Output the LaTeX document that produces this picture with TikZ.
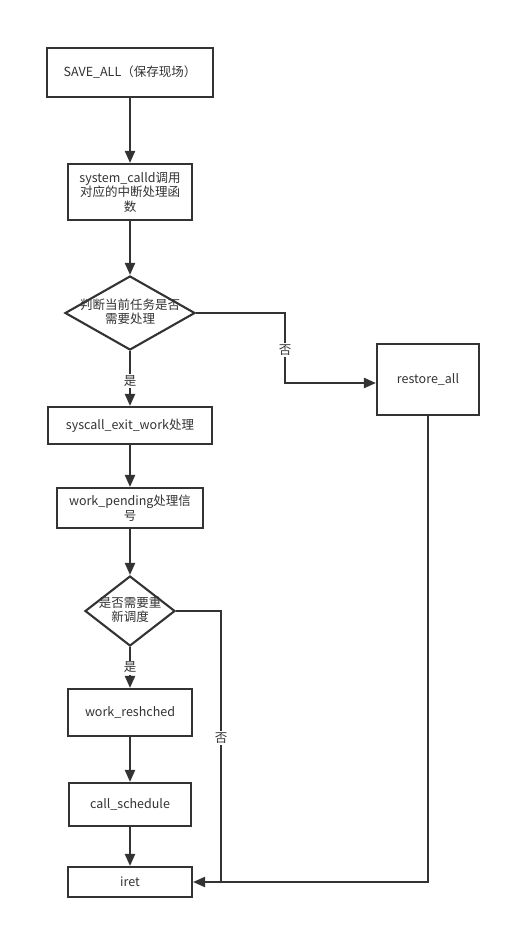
\documentclass[tikz,border=0pt]{standalone}
\usepackage{fontspec}
\setmainfont{Noto Sans CJK SC}
\usetikzlibrary{arrows.meta,shapes.geometric}
\definecolor{ink}{HTML}{333333}
\begin{document}
\begin{tikzpicture}[x=1pt,y=-1pt,
  font=\fontsize{12.5}{16.5}\selectfont,
  every node/.style={text=ink},
  box/.style={draw=ink,line width=2.1pt,rectangle,inner sep=0pt,align=center},
  dia/.style={draw=ink,line width=2.1pt,diamond,inner sep=0pt,aspect=1.75},
  conn/.style={draw=ink,line width=2.1pt,-{Triangle[length=12pt,width=10pt]}},
  plain/.style={draw=ink,line width=2.1pt},
  lab/.style={fill=white,inner sep=1.5pt}]
\useasboundingbox (0,0) rectangle (510,929);
\fill[white] (0,0) rectangle (510,929);
\node[box,minimum width=166pt,minimum height=49pt] (b1) at (130,72.5) {SAVE\_ALL（保存现场）};
\node[box,minimum width=124pt,minimum height=56pt] (b2) at (130,192) {system\_calld调用\\[-2pt]对应的中断处理函\\[-2pt]数};
\node[dia,minimum width=130pt,minimum height=74pt,label={center:{\begin{tabular}{@{}c@{}}判断当前任务是否\\[-3pt]需要处理\end{tabular}}}] (d1) at (130,313) {};
\node[box,minimum width=164pt,minimum height=37pt] (b3) at (130,425.5) {syscall\_exit\_work处理};
\node[box,minimum width=102pt,minimum height=71pt] (r) at (428,379.5) {restore\_all};
\node[box,minimum width=146pt,minimum height=40pt] (b4) at (130,508) {work\_pending处理信\\[-2pt]号};
\node[dia,minimum width=90pt,minimum height=70pt,aspect=1.3,label={center:{\begin{tabular}{@{}c@{}}是否需要重\\[-3pt]新调度\end{tabular}}}] (d2) at (130,611) {};
\node[box,minimum width=124pt,minimum height=47pt] (b5) at (130,712.5) {work\_reshched};
\node[box,minimum width=122pt,minimum height=43pt] (b6) at (130,804.5) {call\_schedule};
\node[box,minimum width=124pt,minimum height=30pt] (b7) at (130,882) {iret};
\coordinate (c1) at (285,313);
\coordinate (c2) at (285,383);
\coordinate (c3) at (221,611);
\coordinate (c4) at (221,882);
\coordinate (c5) at (428,882);
\draw[conn] (b1) -- (b2);
\draw[conn] (b2) -- (d1);
\draw[conn] (d1) -- node[lab,pos=0.55] {是} (b3);
\draw[conn] (d1.east) -- (c1) -- node[lab,pos=0.53] {否} (c2) -- (c2 -| r.west);
\draw[conn] (b3) -- (b4);
\draw[conn] (b4) -- (d2);
\draw[conn] (d2) -- node[lab,pos=0.5] {是} (b5);
\draw[conn] (d2.east) -- (c3) -- node[lab,pos=0.47] {否} (c4) -- (b7.east);
\draw[plain] (r.south) -- (c5) -- (c4);
\draw[conn] (b5) -- (b6);
\draw[conn] (b6) -- (b7);
\end{tikzpicture}
\end{document}
